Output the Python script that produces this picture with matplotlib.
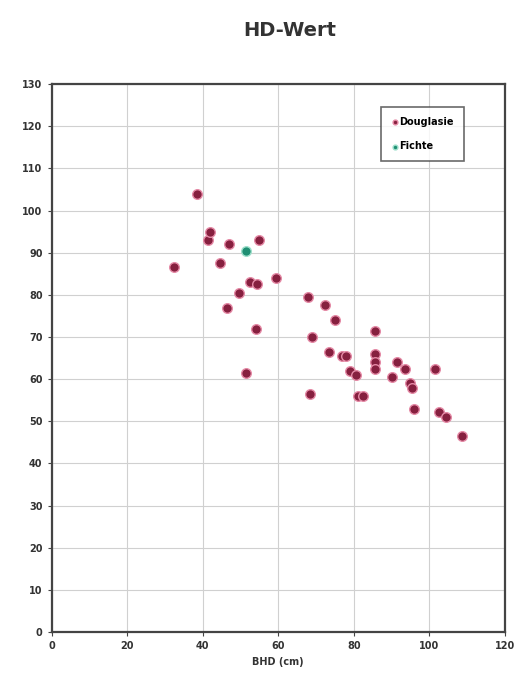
import matplotlib.pyplot as plt

# BHD (cm) and HD values per species
douglasie_bhd = [32.5, 38.5, 41.5, 42, 44.5, 46.5, 47, 49.5, 51.5, 52.5,
                 54, 54.5, 55, 59.5, 68, 68.5, 69, 72.5, 73.5, 75,
                 77, 78, 79, 80.5, 81, 82.5, 85.5, 85.5, 85.5, 85.5,
                 90, 91.5, 93.5, 95, 95.5, 96, 101.5, 102.5, 104.5, 108.5]
douglasie_hd = [86.5, 104, 93, 95, 87.5, 77, 92, 80.5, 61.5, 83,
                72, 82.5, 93, 84, 79.5, 56.5, 70, 77.5, 66.5, 74,
                65.5, 65.5, 62, 61, 56, 56, 71.5, 66, 64, 62.5,
                60.5, 64, 62.5, 59, 58, 53, 62.5, 52.3, 51, 46.5]
fichte_bhd = [51.5]
fichte_hd = [90.5]

x_ticks = [0, 20, 40, 60, 80, 100, 120]
y_ticks = list(range(0, 131, 10))

fig = plt.figure(figsize=(5.26, 6.84), dpi=100)
ax = fig.add_axes([0.098, 0.076, 0.862, 0.801])

ax.scatter(douglasie_bhd, douglasie_hd, s=48, color="#86203f",
           edgecolors="#e58aa6", linewidths=1.0, label="Douglasie", zorder=3)
ax.scatter(fichte_bhd, fichte_hd, s=48, color="#1f8f73",
           edgecolors="#9fe0cc", linewidths=1.0, label="Fichte", zorder=3)

ax.set_xlim(0, 120)
ax.set_ylim(0, 130)
ax.set_xticks(x_ticks)
ax.set_yticks(y_ticks)
ax.tick_params(labelsize=7, length=3, color="#444444", labelcolor="#333333")
for lbl in ax.get_xticklabels() + ax.get_yticklabels():
    lbl.set_fontweight("bold")
ax.grid(True, color="#d0d0d0", linewidth=0.8)
ax.set_axisbelow(True)
for spine in ax.spines.values():
    spine.set_color("#444444")
    spine.set_linewidth(1.6)

ax.set_xlabel("BHD (cm)", fontsize=7, fontweight="bold", color="#333333")
fig.suptitle("HD-Wert", x=0.55, y=0.97, fontsize=14, fontweight="bold",
             color="#333333")

leg = ax.legend(loc="upper right", bbox_to_anchor=(0.92, 0.967),
                fontsize=7, handletextpad=0.1, handlelength=0.8,
                markerscale=0.5, fancybox=False, borderpad=1.0,
                labelspacing=1.5)
leg.get_frame().set_edgecolor("#444444")
leg.get_frame().set_linewidth(1.2)
for text in leg.get_texts():
    text.set_fontweight("bold")

fig.savefig("out.png", dpi=100, facecolor="white")
